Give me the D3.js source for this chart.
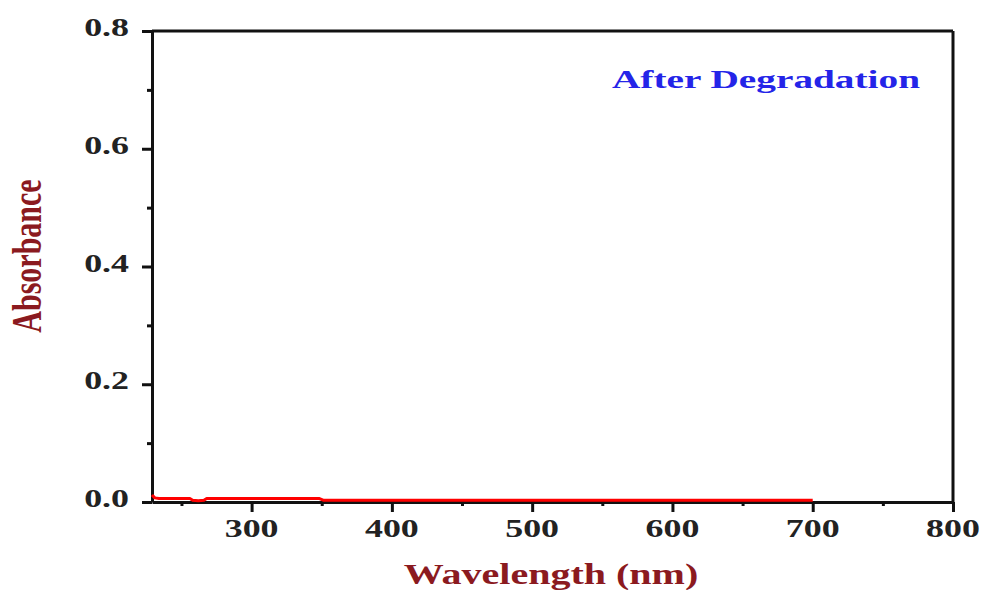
<!DOCTYPE html>
<html>
<head>
<meta charset="utf-8">
<script src="https://cdn.jsdelivr.net/npm/d3@7"></script>
<style>
  html, body { margin: 0; padding: 0; background: #fff; }
  svg { display: block; }
  text { font-family: "Liberation Serif", "Times New Roman", serif; font-weight: bold; }
</style>
</head>
<body>
<svg id="chart" width="982" height="590"></svg>
<script>
// ---- data ----
const wavelength = [229, 231, 234, 240, 250, 256, 258, 262, 266, 268, 280, 300, 320, 340, 348, 351, 360, 400, 450, 500, 550, 600, 650, 700];
const absorbance = [0.012, 0.007, 0.006, 0.006, 0.006, 0.006, 0.003, 0.002, 0.003, 0.006, 0.006, 0.006, 0.006, 0.006, 0.006, 0.003, 0.003, 0.003, 0.003, 0.003, 0.003, 0.003, 0.003, 0.003];
const xMajorTicks = [300, 400, 500, 600, 700, 800];
const xMinorTicks = [250, 350, 450, 550, 650, 750];
const yMajorTicks = [0.0, 0.2, 0.4, 0.6, 0.8];
const yMinorTicks = [0.1, 0.3, 0.5, 0.7];
const xLabel = "Wavelength (nm)";
const yLabel = "Absorbance";
const annotation = "After Degradation";

// ---- layout ----
const L = 152, R = 953, T = 31, B = 502;
const SX = 1.38; // horizontal stretch of the reference image
const svg = d3.select("#chart");
const x = d3.scaleLinear().domain([229, 800]).range([L, R]);
const y = d3.scaleLinear().domain([0, 0.8]).range([B, T]);

const axisColor = "#111";
const tickColor = "#222";
const labelRed = "#8b1a1f";

// frame: top and right lines
svg.append("line").attr("x1", L).attr("x2", R).attr("y1", T).attr("y2", T)
  .attr("stroke", axisColor).attr("stroke-width", 3);
svg.append("line").attr("x1", R).attr("x2", R).attr("y1", T).attr("y2", B)
  .attr("stroke", axisColor).attr("stroke-width", 3);

// bottom axis
const xAxis = d3.axisBottom(x).tickValues(xMajorTicks).tickSize(10).tickFormat("").tickSizeOuter(0);
const gx = svg.append("g").attr("transform", `translate(0,${B})`).call(xAxis);
gx.select(".domain").attr("stroke", axisColor).attr("stroke-width", 3);
gx.selectAll(".tick line").attr("stroke", axisColor).attr("stroke-width", 3);
const xAxisMinor = d3.axisBottom(x).tickValues(xMinorTicks).tickSize(4).tickFormat("").tickSizeOuter(0);
const gxm = svg.append("g").attr("transform", `translate(0,${B})`).call(xAxisMinor);
gxm.select(".domain").remove();
gxm.selectAll(".tick line").attr("stroke", axisColor).attr("stroke-width", 3);

// left axis
const yAxis = d3.axisLeft(y).tickValues(yMajorTicks).tickSize(10).tickFormat("").tickSizeOuter(0);
const gy = svg.append("g").attr("transform", `translate(${L},0)`).call(yAxis);
gy.select(".domain").attr("stroke", axisColor).attr("stroke-width", 3);
gy.selectAll(".tick line").attr("stroke", axisColor).attr("stroke-width", 3);
const yAxisMinor = d3.axisLeft(y).tickValues(yMinorTicks).tickSize(5).tickFormat("").tickSizeOuter(0);
const gym = svg.append("g").attr("transform", `translate(${L},0)`).call(yAxisMinor);
gym.select(".domain").remove();
gym.selectAll(".tick line").attr("stroke", axisColor).attr("stroke-width", 3);

// tick labels (stretched horizontally like the reference)
svg.append("g").selectAll("text").data(xMajorTicks).join("text")
  .attr("transform", d => `translate(${x(d)},537) scale(${SX},1)`)
  .attr("text-anchor", "middle")
  .attr("font-size", 26)
  .attr("fill", tickColor)
  .text(d => d3.format("d")(d));

svg.append("g").selectAll("text").data(yMajorTicks).join("text")
  .attr("transform", d => `translate(129,${y(d) + 5}) scale(${SX},1)`)
  .attr("text-anchor", "end")
  .attr("font-size", 26)
  .attr("fill", tickColor)
  .text(d => d3.format(".1f")(d));

// data line
const line = d3.line().x((d, i) => x(wavelength[i])).y(d => y(d));
svg.append("path").datum(absorbance)
  .attr("d", line)
  .attr("fill", "none")
  .attr("stroke", "#ff0000")
  .attr("stroke-width", 3)
  .attr("stroke-linejoin", "round");

// axis titles
svg.append("text")
  .attr("transform", `translate(551,584) scale(${SX},1)`)
  .attr("text-anchor", "middle")
  .attr("font-size", 29)
  .attr("fill", labelRed)
  .text(xLabel);

svg.append("text")
  .attr("transform", `translate(41,256) scale(${SX},1) rotate(-90)`)
  .attr("text-anchor", "middle")
  .attr("font-size", 30)
  .attr("fill", labelRed)
  .text(yLabel);

// annotation
svg.append("text")
  .attr("x", 612).attr("y", 88)
  .attr("font-size", 26)
  .attr("fill", "#2424e8")
  .attr("textLength", 308)
  .attr("lengthAdjust", "spacingAndGlyphs")
  .text(annotation);
</script>
</body>
</html>
